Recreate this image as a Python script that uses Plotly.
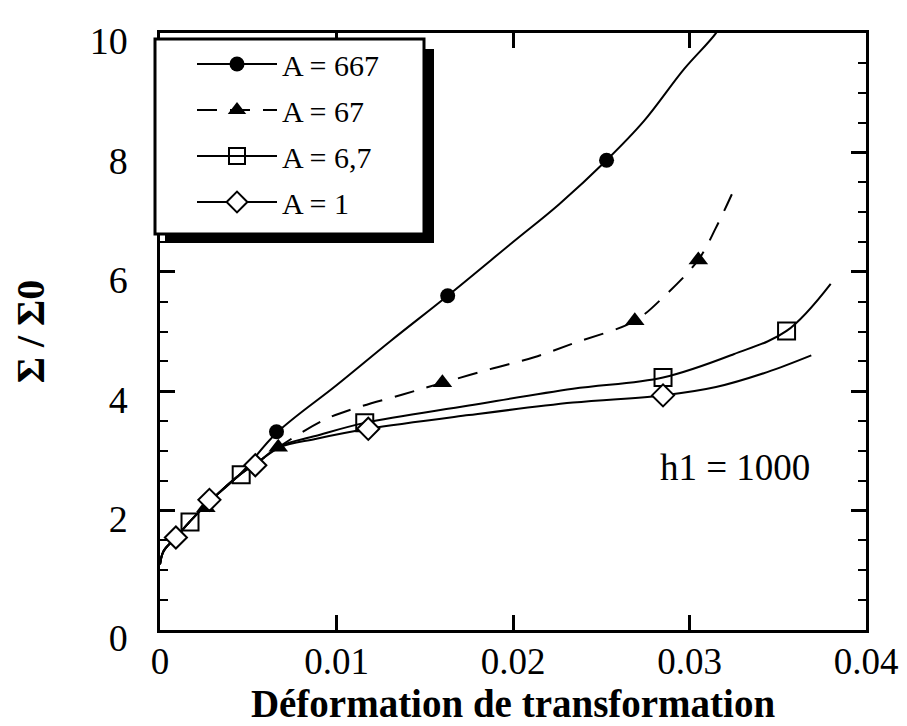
import plotly.graph_objects as go

# ---------------- data ----------------
series_names = ["A = 667", "A = 67", "A = 6,7", "A = 1"]

# smooth curves
x_667 = [0, 0.0002, 0.0009, 0.0017, 0.0028, 0.0046, 0.0066, 0.0100, 0.0131, 0.0163,
         0.0200, 0.0226, 0.0253, 0.0274, 0.0297, 0.0315, 0.0322]
y_667 = [1.1, 1.32, 1.55, 1.82, 2.15, 2.63, 3.3, 4.1, 4.85, 5.6,
         6.5, 7.13, 7.87, 8.52, 9.4, 10.0, 10.35]

x_67 = [0, 0.0002, 0.0009, 0.0017, 0.0028, 0.0046, 0.0055, 0.0067, 0.0093, 0.0111,
        0.0138, 0.0160, 0.0187, 0.0212, 0.0235, 0.0269, 0.0286, 0.0305, 0.0315, 0.0324]
y_67 = [1.1, 1.32, 1.55, 1.82, 2.15, 2.62, 2.8, 3.06, 3.52, 3.72,
        3.95, 4.14, 4.37, 4.57, 4.81, 5.18, 5.6, 6.2, 6.74, 7.3]

x_67b = [0, 0.0002, 0.0009, 0.0017, 0.0028, 0.0046, 0.0055, 0.0068, 0.0088, 0.0116,
         0.0175, 0.0234, 0.0285, 0.0325, 0.0355, 0.0380]
y_67b = [1.1, 1.32, 1.55, 1.82, 2.15, 2.62, 2.8, 3.08, 3.25, 3.47,
         3.76, 4.04, 4.23, 4.62, 5.01, 5.8]

x_1 = [0, 0.0002, 0.0009, 0.0017, 0.0028, 0.0046, 0.0055, 0.0068, 0.0088, 0.0118,
       0.0175, 0.0234, 0.0285, 0.0315, 0.0344, 0.0369]
y_1 = [1.1, 1.32, 1.55, 1.82, 2.15, 2.62, 2.8, 3.06, 3.2, 3.37,
       3.6, 3.81, 3.93, 4.07, 4.32, 4.6]

# markers
mx_667 = [0.0066, 0.0163, 0.0253]
my_667 = [3.32, 5.6, 7.87]
mx_67 = [0.0026, 0.0067, 0.0160, 0.0269, 0.0305]
my_67 = [2.05, 3.06, 4.14, 5.18, 6.2]
mx_67b = [0.0017, 0.0046, 0.0116, 0.0285, 0.0355]
my_67b = [1.81, 2.6, 3.47, 4.23, 5.01]
mx_1 = [0.0009, 0.0028, 0.0054, 0.0118, 0.0285]
my_1 = [1.55, 2.18, 2.76, 3.37, 3.93]

x_ticks = [0, 0.01, 0.02, 0.03, 0.04]
x_ticktext = ["0", "0.01", "0.02", "0.03", "0.04"]
y_ticks = [0, 2, 4, 6, 8, 10]
y_ticktext = ["0", "2", "4", "6", "8", "10"]

# ---------------- layout constants ----------------
W, H = 907, 726
L, R, T, B = 152, 49, 22, 104
PW, PH = W - L - R, H - T - B
FONT = "Liberation Serif"


def px2x(px):
    return (px - L) / PW


def py2y(py):
    return 1 - (py - T) / PH


styles = [
    dict(line=dict(color="black", width=2), marker=dict(symbol="circle", size=15, color="black")),
    dict(line=dict(color="black", width=2, dash="20px,13px"),
         marker=dict(symbol="triangle-up", size=17, color="black")),
    dict(line=dict(color="black", width=2),
         marker=dict(symbol="square-open", size=17, color="black", line=dict(width=2, color="black"))),
    dict(line=dict(color="black", width=2),
         marker=dict(symbol="diamond", size=17, color="white", line=dict(width=2, color="black"))),
]

curves = [(x_667, y_667), (x_67, y_67), (x_67b, y_67b), (x_1, y_1)]
marks = [(mx_667, my_667), (mx_67, my_67), (mx_67b, my_67b), (mx_1, my_1)]

fig = go.Figure()
for name, (cx, cy), (mx, my), st in zip(series_names, curves, marks, styles):
    fig.add_trace(go.Scatter(x=cx, y=cy, mode="lines", line=st["line"], line_shape="spline",
                             showlegend=False, legendgroup=name, hoverinfo="skip"))
    fig.add_trace(go.Scatter(x=mx, y=my, mode="markers", marker=st["marker"],
                             showlegend=False, legendgroup=name))
for name, st in zip(series_names, styles):
    fig.add_trace(go.Scatter(x=[None], y=[None], mode="lines+markers", name=name,
                             line=st["line"], marker=st["marker"], legendgroup=name))

# legend frame with shadow
shapes = [
    dict(type="rect", xref="paper", yref="paper", x0=px2x(157), x1=px2x(426), y0=py2y(233), y1=py2y(38),
         fillcolor="black", line=dict(width=0), layer="above"),
    dict(type="rect", xref="paper", yref="paper", x0=px2x(147), x1=px2x(416), y0=py2y(224), y1=py2y(28),
         fillcolor="white", line=dict(width=3, color="black"), layer="above"),
]

fig.update_layout(
    width=W, height=H,
    margin=dict(l=L, r=R, t=T, b=B),
    plot_bgcolor="white", paper_bgcolor="white",
    font=dict(family=FONT, color="black"),
    shapes=shapes,
    showlegend=True,
    legend=dict(x=px2x(184), y=py2y(27), xanchor="left", yanchor="top",
                bgcolor="rgba(0,0,0,0)", borderwidth=0,
                font=dict(family=FONT, size=30, color="black"),
                itemwidth=80, tracegroupgap=4),
    xaxis=dict(range=[0, 0.04], tickmode="array", tickvals=x_ticks, ticktext=x_ticktext,
               ticks="inside", ticklen=15, tickwidth=2.5, tickcolor="black",
               showline=True, linewidth=2.5, linecolor="black", mirror="ticks",
               showgrid=False, zeroline=False, ticklabeloverflow="allow",
               tickfont=dict(family=FONT, size=37), ticklabelstandoff=-3,
               title=dict(text="<b>Déformation de transformation</b>",
                          font=dict(family=FONT, size=39), standoff=0)),
    yaxis=dict(range=[0, 10.001], tickmode="array", tickvals=y_ticks, ticktext=y_ticktext,
               ticks="inside", ticklen=15, tickwidth=2.5, tickcolor="black",
               showline=True, linewidth=2.5, linecolor="black", mirror="ticks",
               showgrid=False, zeroline=False, ticklabeloverflow="allow",
               minor=dict(ticks="inside", ticklen=8, dtick=0.5, tickwidth=2, tickcolor="black", showgrid=False),
               tickfont=dict(family=FONT, size=38), ticklabelstandoff=22, ticklabelshift=8,
               title=dict(text="<b>Σ / Σ0</b>", font=dict(family=FONT, size=40), standoff=40)),
    annotations=[dict(x=0.0326, y=2.72, xref="x", yref="y", text="h1 = 1000", showarrow=False,
                      font=dict(family=FONT, size=37, color="black"))],
)

fig.write_html("out.html")
